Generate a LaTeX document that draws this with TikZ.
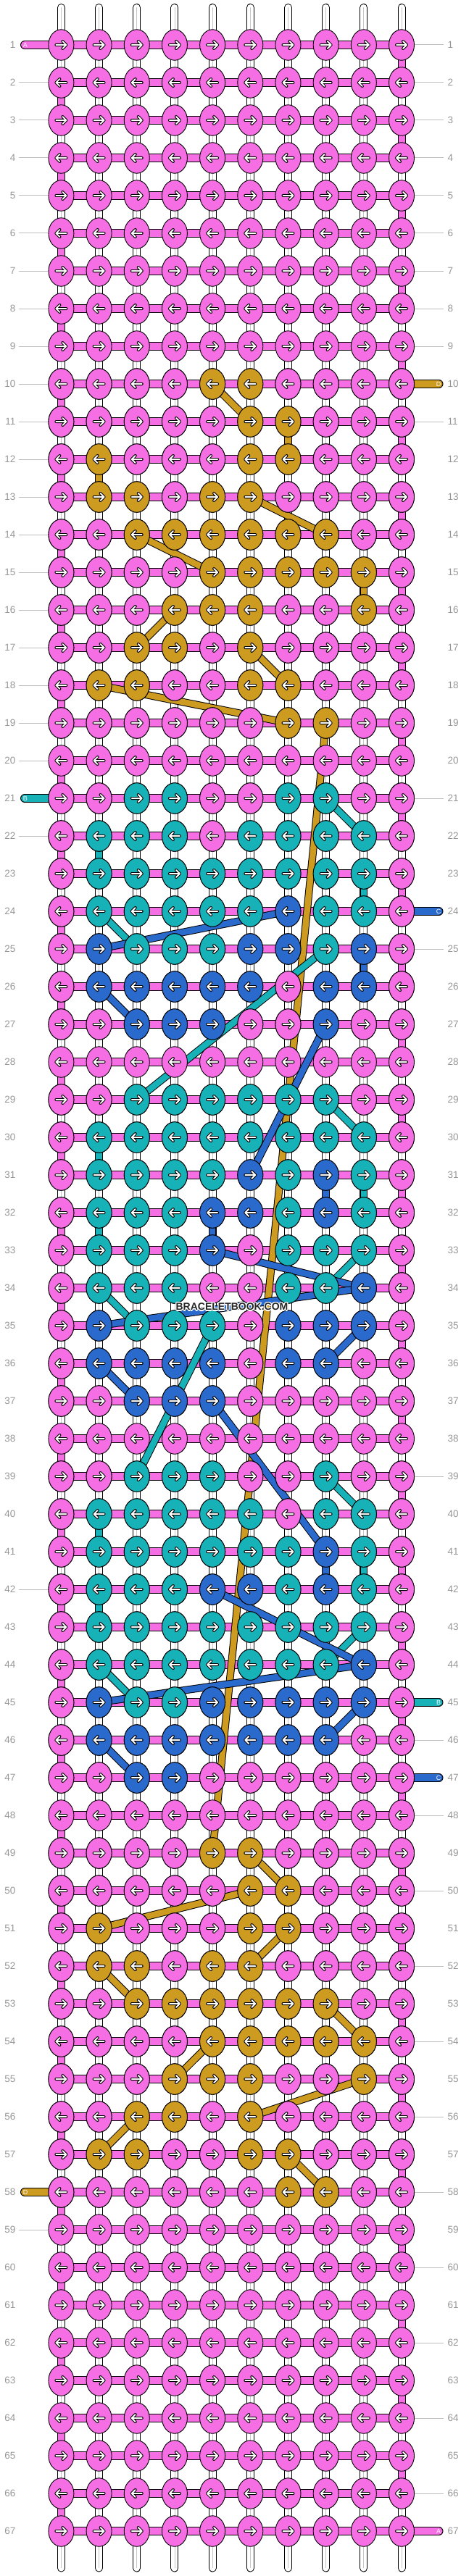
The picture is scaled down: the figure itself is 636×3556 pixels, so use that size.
\documentclass[tikz,border=0pt]{standalone}
\usepackage{fontspec}
\setmainfont{Liberation Sans}
\usetikzlibrary{shapes.geometric,backgrounds}

\definecolor{thA}{RGB}{245,110,227}
\definecolor{thB}{RGB}{23,178,183}
\definecolor{thC}{RGB}{42,106,204}
\definecolor{thD}{RGB}{206,155,33}
\definecolor{labelgrey}{RGB}{150,150,150}
\definecolor{leadergrey}{RGB}{190,190,190}

\tikzset{
  knot/.style={ellipse, draw, fill=th#1, line width=0.9pt, inner sep=0pt,
    minimum width=35pt, minimum height=42.5pt},
  strand/.style={line width=1pt, draw=black, double=white, double distance=9pt, line cap=round},
  bar/.style={line width=1pt, draw=black, double=thA, double distance=10pt},
  edgebar/.style={line width=1pt, draw=black, double=thA, double distance=9pt},
  link/.style={line width=1pt, draw=black, double=th#1, double distance=8.5pt},
  threadend/.style={line width=1pt, draw=black, double=th#1, double distance=10pt, line cap=round},
  endletter/.style={text=white, inner sep=0pt, font=\fontsize{9}{9}\selectfont},
  rowlabel/.style={text=labelgrey, inner sep=0pt, font=\fontsize{13.5}{14}\selectfont},
  wmtext/.style={inner sep=0pt, font=\bfseries\fontsize{14}{14}\selectfont},
  knotarrow/.pic={
    \draw[line width=4pt, line cap=round, line join=round] (-7,0) -- (7,0) (2,-5) -- (7,0) -- (2,5);
    \draw[white, line width=1.9pt, line cap=round, line join=round] (-7,0) -- (7,0) (2,-5) -- (7,0) -- (2,5);
  }
}

\begin{document}
\begin{tikzpicture}[x=1pt, y=-1pt]
\useasboundingbox (0,0) rectangle (636,3556);

% Knots: background colour everywhere, then the coloured rows
\foreach \r in {1,...,67} {
  \foreach \c in {1,...,10} {
    \node[knot=A] (k-\r-\c) at ({84.4+52.18*(\c-1)}, {62+52*(\r-1)}) {};
  }
}
\foreach \r/\row in {
  10/{A,A,A,A,D,D,A,A,A,A}, 11/{A,A,A,A,A,D,D,A,A,A}, 12/{A,D,A,A,A,D,D,A,A,A},
  13/{A,D,D,A,D,D,A,A,A,A}, 14/{A,A,D,D,D,D,D,D,A,A}, 15/{A,A,A,A,D,D,D,D,D,A},
  16/{A,A,A,D,D,D,A,A,D,A}, 17/{A,A,D,D,A,D,A,A,A,A}, 18/{A,D,D,A,A,D,D,A,A,A},
  19/{A,A,A,A,A,A,D,D,A,A},
  21/{A,A,B,B,A,A,B,B,A,A}, 22/{A,B,B,B,A,B,B,B,B,A}, 23/{A,B,B,B,B,B,B,B,B,A},
  24/{A,B,B,B,B,B,C,B,B,A}, 25/{A,C,B,B,B,C,C,B,C,A}, 26/{A,C,C,C,C,C,A,C,C,A},
  27/{A,A,C,C,C,A,A,C,A,A},
  29/{A,A,B,B,B,B,B,B,A,A}, 30/{A,B,B,B,B,B,B,B,B,A}, 31/{A,B,B,B,B,C,B,C,B,A},
  32/{A,B,B,B,C,C,B,C,B,A}, 33/{A,B,B,B,C,A,B,B,B,A}, 34/{A,B,B,B,A,A,B,B,C,A},
  35/{A,C,B,B,B,A,C,C,C,A}, 36/{A,C,C,C,C,A,C,C,A,A}, 37/{A,A,C,C,C,A,A,A,A,A},
  39/{A,A,B,B,B,A,A,B,A,A}, 40/{A,B,B,B,B,B,A,B,B,A}, 41/{A,B,B,B,B,B,B,C,B,A},
  42/{A,B,B,B,C,C,B,C,B,A}, 43/{A,B,B,B,B,B,B,B,B,A}, 44/{A,B,B,B,B,B,B,B,C,A},
  45/{A,C,B,B,C,C,C,C,C,A}, 46/{A,C,C,C,C,C,C,C,A,A}, 47/{A,A,C,C,A,A,A,A,A,A},
  49/{A,A,A,A,D,D,A,A,A,A}, 50/{A,A,A,A,A,D,D,A,A,A}, 51/{A,D,A,A,A,D,D,A,A,A},
  52/{A,D,D,A,D,D,A,A,A,A}, 53/{A,A,D,D,D,D,D,D,A,A}, 54/{A,A,A,A,D,D,D,D,D,A},
  55/{A,A,A,D,D,D,A,A,D,A}, 56/{A,A,D,D,A,D,A,A,A,A}, 57/{A,D,D,A,A,D,D,A,A,A},
  58/{A,A,A,A,A,A,D,D,A,A}} {
  \foreach \t [count=\c] in \row {
    \node[knot=\t] (k-\r-\c) at ({84.4+52.18*(\c-1)}, {62+52*(\r-1)}) {};
  }
}

% Arrows
\foreach \r in {1,...,67} {
  \pgfmathtruncatemacro\dir{isodd(\r) ? 1 : -1}
  \foreach \c in {1,...,10} \pic[xscale=\dir] at (k-\r-\c) {knotarrow};
}

% Row numbers
\foreach \r in {1,...,67} {
  \node[rowlabel, anchor=east] (ll-\r) at (21.5, {62+52*(\r-1)}) {\r};
  \node[rowlabel, anchor=west] (rl-\r) at (617.5, {62+52*(\r-1)}) {\r};
}

% Thread ends
\foreach \r/\t in {1/A, 21/B, 58/D} {
  \coordinate (te-\r) at (34, {62+52*(\r-1)});
  \node[endletter] (tl-\r) at (35, {62+52*(\r-1)}) {\t};
}
\foreach \r/\t in {10/D, 24/C, 45/B, 47/C, 67/A} {
  \coordinate (te-\r) at (605.5, {62+52*(\r-1)});
  \node[endletter] (tl-\r) at (605, {62+52*(\r-1)}) {\t};
}

% Watermark with a light halo
\foreach \dx/\dy [count=\i] in {1.2/0, -1.2/0, 0/1.2, 0/-1.2, 0.9/0.9, -0.9/0.9, 0.9/-0.9, -0.9/-0.9}
  \node[wmtext, text=white] (wm-h-\i) at ({320+\dx}, {1804+\dy}) {BRACELETBOOK.COM};
\node[wmtext, text=gray!30!black] (wm) at (320, 1804) {BRACELETBOOK.COM};

\begin{pgfonlayer}{background}
  % base strands
  \foreach \c in {1,...,10} {
    \coordinate (st-\c) at ({84.4+52.18*(\c-1)}, 10.5);
    \coordinate (sb-\c) at ({84.4+52.18*(\c-1)}, 3545);
    \draw[strand] (st-\c) -- (sb-\c);
    \draw[gray!45, line width=0.8pt] (st-\c) -- (sb-\c);
  }
  % working thread
  \foreach \r in {1,...,67} \draw[bar] (k-\r-1.center) -- (k-\r-10.center);
  \foreach \r [evaluate=\r as \s using int(\r+1)] in {1,3,...,65} \draw[edgebar] (k-\r-10.center) -- (k-\s-10.center);
  \foreach \r [evaluate=\r as \s using int(\r+1)] in {2,4,...,66} \draw[edgebar] (k-\r-1.center) -- (k-\s-1.center);
  % coloured threads from row to row
  \foreach \ra/\ca/\rb/\cb in {10/5/11/6, 11/7/12/7, 12/2/13/2, 13/6/14/8, 14/3/15/5,
      15/9/16/9, 16/4/17/3, 17/6/18/7, 18/2/19/7, 19/8/49/5, 49/6/50/7, 50/6/51/2,
      51/7/52/6, 52/2/53/3, 53/8/54/9, 54/5/55/4, 55/9/56/6, 56/3/57/2, 57/7/58/8}
    \draw[link=D] (k-\ra-\ca.center) -- (k-\rb-\cb.center);
  \foreach \ra/\ca/\rb/\cb in {21/8/22/9, 22/2/23/2, 23/9/24/9, 24/2/25/3, 25/8/29/3,
      29/8/30/9, 30/2/31/2, 31/9/32/9, 32/2/33/2, 33/9/34/8, 34/2/35/3, 35/5/39/3,
      39/8/40/9, 40/2/41/2, 41/9/42/9, 42/2/43/2, 43/9/44/8, 44/2/45/3}
    \draw[link=B] (k-\ra-\ca.center) -- (k-\rb-\cb.center);
  \foreach \ra/\ca/\rb/\cb in {24/7/25/2, 25/9/26/9, 26/2/27/3, 27/8/31/6, 31/8/32/8,
      32/5/33/5, 33/5/34/9, 34/9/35/2, 35/9/36/8, 36/2/37/3, 37/5/41/8, 41/8/42/8,
      42/5/44/9, 44/9/45/2, 45/9/46/8, 46/2/47/3}
    \draw[link=C] (k-\ra-\ca.center) -- (k-\rb-\cb.center);
  % leaders to the row numbers
  \foreach \r in {2,...,20,22,...,57,59,...,67} {
    \coordinate (lx-\r) at (26, {62+52*(\r-1)});
    \draw[leadergrey, line width=1pt] (lx-\r) -- (k-\r-1);
  }
  \foreach \r in {1,...,9,11,...,23,25,...,44,46,48,...,66} {
    \coordinate (rx-\r) at (612, {62+52*(\r-1)});
    \draw[leadergrey, line width=1pt] (k-\r-10) -- (rx-\r);
  }
  % loose ends
  \foreach \r/\t in {1/A, 21/B, 58/D} \draw[threadend=\t] (te-\r) -- (k-\r-1.center);
  \foreach \r/\t in {10/D, 24/C, 45/B, 47/C, 67/A} \draw[threadend=\t] (te-\r) -- (k-\r-10.center);
\end{pgfonlayer}
\end{tikzpicture}
\end{document}
